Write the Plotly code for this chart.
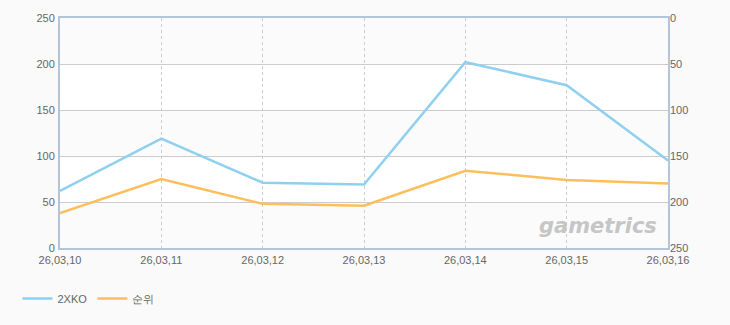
import plotly.graph_objects as go

dates = ["26,03,10", "26,03,11", "26,03,12", "26,03,13", "26,03,14", "26,03,15", "26,03,16"]
series_2xko = [62, 119, 71, 69, 202, 177, 95]
series_rank = [212, 175, 202, 204, 166, 176, 180]
left_ticks = [0, 50, 100, 150, 200, 250]
right_ticks = [0, 50, 100, 150, 200, 250]

xs = list(range(len(dates)))
FONT = "Liberation Sans"
BORDER = "#b3c5d9"
GRID = "#cccccc"

fig = go.Figure()
fig.add_trace(go.Scatter(x=xs, y=series_2xko, name="2XKO", mode="lines",
                         line=dict(color="#8fd0f0", width=2.5), yaxis="y"))
fig.add_trace(go.Scatter(x=xs, y=series_rank, name="순위", mode="lines",
                         line=dict(color="#ffbe5c", width=2.5), yaxis="y2"))

shapes = []
for lo in (0, 100, 200):
    shapes.append(dict(type="rect", xref="paper", yref="y", x0=0, x1=1, y0=lo, y1=lo + 50,
                       fillcolor="#fbfbfb", line=dict(width=0), layer="below"))

fig.update_layout(
    width=730, height=325,
    margin=dict(l=60, r=62, t=16, b=77),
    paper_bgcolor="#fafafa", plot_bgcolor="#ffffff",
    font=dict(family=FONT, size=11, color="#666666"),
    shapes=shapes,
    showlegend=True,
    legend=dict(orientation="h", x=-0.07, y=-0.22, xanchor="left", yanchor="middle",
                font=dict(family=FONT, size=11, color="#666666"),
                bgcolor="rgba(0,0,0,0)", entrywidth=30, entrywidthmode="pixels",
                tracegroupgap=0),
    xaxis=dict(range=[0, 6], tickmode="array", tickvals=xs, ticktext=dates,
               showgrid=True, gridcolor=GRID, griddash="3px,3px", gridwidth=1,
               showline=True, linecolor=BORDER, linewidth=2, mirror=True,
               zeroline=False, ticks="", ticklabelstandoff=1,
               tickfont=dict(size=11, color="#666666")),
    yaxis=dict(range=[0, 250], tickmode="array", tickvals=left_ticks,
               showgrid=True, gridcolor=GRID, gridwidth=1,
               showline=True, linecolor=BORDER, linewidth=2, mirror=True,
               zeroline=False, ticks="", ticklabelstandoff=1,
               tickfont=dict(size=11, color="#666666")),
    yaxis2=dict(range=[250, 0], tickmode="array", tickvals=right_ticks,
                overlaying="y", side="right", showgrid=False, zeroline=False,
                showline=False, ticks="", ticklabelstandoff=1,
                tickfont=dict(size=11, color="#666666")),
    annotations=[dict(text="<b><i>gametrics</i></b>", xref="paper", yref="paper",
                      x=0.985, y=0.035, xanchor="right", yanchor="bottom", showarrow=False,
                      font=dict(family="DejaVu Sans", size=21, color="#c6c6c6"))],
)

fig.write_html("out.html")
